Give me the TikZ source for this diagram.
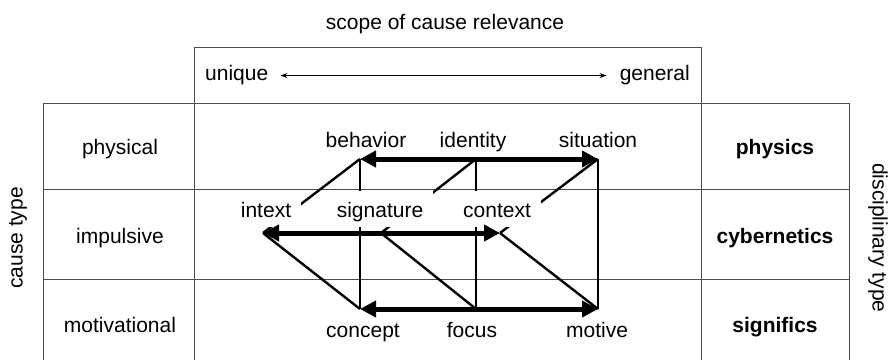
\documentclass[tikz,border=0pt]{standalone}
\usepackage{fontspec}
\setmainfont{Liberation Sans}
\usetikzlibrary{arrows.meta}
\begin{document}
\begin{tikzpicture}[x=1pt,y=-1pt,
  grid/.style={line width=1pt, black!70},
  lbl/.style={font=\fontsize{21}{25}\selectfont, inner sep=0pt, anchor=base},
  blbl/.style={lbl, font=\fontsize{21}{25}\selectfont\bfseries},
  midlbl/.style={lbl, fill=white, inner xsep=10pt, inner ysep=0pt, text height=26pt, text depth=10pt},
  bigarrow/.style={line width=5pt, {Triangle[length=16pt,width=16pt]}-{Triangle[length=16pt,width=16pt]}},
  link/.style={line width=2.4pt},
  thinarrow/.style={line width=0.8pt, {Stealth[length=7pt,width=5pt]}-{Stealth[length=7pt,width=5pt]}},
]
\useasboundingbox (0,0) rectangle (888,360);

% table
\draw[grid] (194,47) rectangle (701,103);
\draw[grid] (43,360) -- (43,103) -- (849,103) -- (849,360);
\draw[grid] (194,103) -- (194,360);
\draw[grid] (701,103) -- (701,360);
\draw[grid] (43,189) -- (849,189);
\draw[grid] (43,279) -- (849,279);

% headers
\node[lbl] (scope) at (445,29) {scope of cause relevance};
\node[lbl, anchor=base west] (unique) at (205,80) {unique};
\node[lbl, anchor=base east] (general) at (690,80) {general};
\draw[thinarrow] ([xshift=12pt,yshift=-1pt]unique.east) -- ([xshift=-13pt,yshift=-1pt]general.west);

\node[lbl] (physical) at (120,154) {physical};
\node[lbl] (impulsive) at (120,243) {impulsive};
\node[lbl] (motivational) at (120,332) {motivational};
\node[lbl, anchor=center, rotate=90] (causetype) at (18,238) {cause type};

\node[blbl] (physics) at (775,154) {physics};
\node[blbl] (cybernetics) at (775,243) {cybernetics};
\node[blbl] (significs) at (775,332) {significs};
\node[lbl, anchor=center, rotate=-90] (disctype) at (878,238) {disciplinary type};

% lattice points
\coordinate (B) at (360,159);
\coordinate (I) at (476,159);
\coordinate (S) at (598,159);
\coordinate (IN) at (263,233);
\coordinate (SG) at (381,233);
\coordinate (CX) at (500,233);
\coordinate (CO) at (360,309);
\coordinate (F) at (476,309);
\coordinate (M) at (598,309);

% links
\draw[link] (B) -- (CO);
\draw[link] (I) -- (F);
\draw[link] (S) -- (M);
\draw[link] (B) -- (IN);
\draw[link] (I) -- (SG);
\draw[link] (S) -- (CX);
\draw[link] (IN) -- (CO);
\draw[link] (SG) -- (F);
\draw[link] (CX) -- (M);

% middle labels (cover the lines)
\node[midlbl] (intext) at (266,217) {intext};
\node[midlbl] (signature) at (380,217) {signature};
\node[midlbl] (context) at (497,217) {context};

% thick arrows
\draw[bigarrow] (B) -- (S);
\draw[bigarrow] (IN) -- (CX);
\draw[bigarrow] (CO) -- (M);

% top and bottom labels
\node[lbl] (behavior) at (366,147) {behavior};
\node[lbl] (identity) at (473,147) {identity};
\node[lbl] (situation) at (598,147) {situation};
\node[lbl] (concept) at (363,337) {concept};
\node[lbl] (focus) at (472,337) {focus};
\node[lbl] (motive) at (597,337) {motive};
\end{tikzpicture}
\end{document}
